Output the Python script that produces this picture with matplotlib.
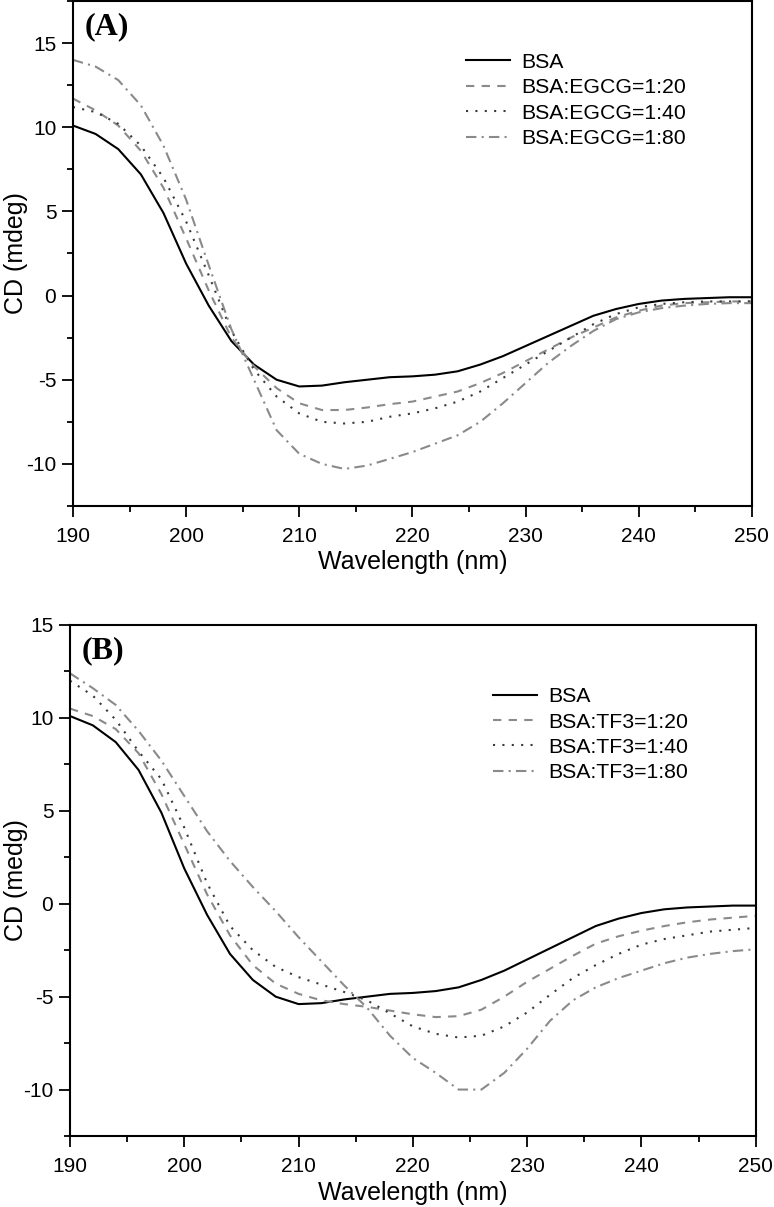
import numpy as np
import matplotlib
matplotlib.use("Agg")
import matplotlib.pyplot as plt
from matplotlib.ticker import MultipleLocator

plt.rcParams['font.family'] = ['Liberation Sans', 'DejaVu Sans']
plt.rcParams['axes.unicode_minus'] = False

# wavelength grid (nm), every 2 nm
wavelength = np.arange(190, 251, 2)

# BSA alone (same spectrum in both panels)
bsa = [10.1, 9.6, 8.7, 7.2, 4.9, 1.9, -0.6, -2.7, -4.1, -5.0, -5.4, -5.35, -5.15, -5.0, -4.85, -4.8,
       -4.7, -4.5, -4.1, -3.6, -3.0, -2.4, -1.8, -1.2, -0.8, -0.5, -0.3, -0.2, -0.15, -0.1, -0.1]

# panel A: BSA + EGCG
egcg_20 = [11.7, 11.0, 10.1, 8.6, 6.4, 3.4, 0.3, -2.5, -4.2, -5.5, -6.4, -6.8, -6.8, -6.65, -6.45, -6.3,
           -6.0, -5.7, -5.2, -4.6, -3.9, -3.2, -2.5, -1.9, -1.3, -0.9, -0.6, -0.45, -0.4, -0.35, -0.35]
egcg_40 = [11.2, 10.9, 10.2, 8.9, 7.0, 4.4, 1.2, -2.1, -4.4, -6.0, -7.0, -7.5, -7.6, -7.5, -7.2, -7.0,
           -6.7, -6.3, -5.7, -4.9, -4.1, -3.3, -2.5, -1.7, -1.1, -0.7, -0.5, -0.4, -0.35, -0.35, -0.35]
egcg_80 = [14.0, 13.6, 12.8, 11.3, 8.9, 5.7, 1.8, -2.0, -5.0, -8.0, -9.4, -10.0, -10.3, -10.1, -9.7, -9.3,
           -8.8, -8.3, -7.5, -6.4, -5.2, -4.0, -3.0, -2.1, -1.4, -1.0, -0.75, -0.6, -0.5, -0.45, -0.45]

# panel B: BSA + TF3
tf3_20 = [10.5, 10.1, 9.4, 8.1, 5.9, 3.2, 0.5, -1.7, -3.3, -4.3, -4.85, -5.2, -5.4, -5.55, -5.75, -5.95,
          -6.1, -6.05, -5.7, -5.0, -4.2, -3.5, -2.8, -2.15, -1.75, -1.45, -1.2, -1.0, -0.85, -0.75, -0.65]
tf3_40 = [12.0, 11.2, 9.9, 8.2, 6.7, 4.1, 1.1, -1.2, -2.5, -3.4, -3.95, -4.35, -4.75, -5.2, -5.9, -6.6,
          -7.0, -7.2, -7.1, -6.6, -5.85, -4.9, -4.0, -3.3, -2.7, -2.2, -1.9, -1.7, -1.5, -1.4, -1.3]
tf3_80 = [12.4, 11.6, 10.7, 9.3, 7.7, 5.8, 3.9, 2.3, 0.9, -0.4, -1.8, -3.1, -4.4, -5.6, -7.1, -8.3,
          -9.1, -10.0, -10.0, -9.1, -7.8, -6.3, -5.2, -4.5, -4.0, -3.6, -3.2, -2.9, -2.7, -2.55, -2.45]

styles = [
    dict(color='black', lw=1.5, linestyle='-'),
    dict(color='#8a8a8a', lw=1.5, dashes=(4, 3.5)),
    dict(color='#3a3a3a', lw=1.5, dashes=(1, 3.5)),
    dict(color='#8a8a8a', lw=1.5, dashes=(5, 2.5, 1, 2.5)),
]


def draw_panel(ax, series, labels, tag, ylabel, ylim, leg_anchor, ylab_x):
    for ys, lab, st in zip(series, labels, styles):
        ax.plot(wavelength, ys, label=lab, **st)
    ax.set_xlim(190, 250)
    ax.set_ylim(*ylim)
    ax.set_xticks(np.arange(190, 251, 10))
    ax.set_yticks([-10, -5, 0, 5, 10, 15])
    ax.xaxis.set_minor_locator(MultipleLocator(5))
    ax.yaxis.set_minor_locator(MultipleLocator(2.5))
    ax.tick_params(which='major', direction='out', length=8, width=1.3, labelsize=15, pad=4)
    ax.tick_params(axis='x', which='major', pad=7)
    ax.tick_params(which='minor', direction='out', length=4, width=1.3)
    for sp in ax.spines.values():
        sp.set_linewidth(1.5)
    ax.set_xlabel('Wavelength (nm)', fontsize=18)
    ax.xaxis.set_label_coords(0.5, -0.088)
    ax.set_ylabel(ylabel, fontsize=18)
    ax.yaxis.set_label_coords(ylab_x, 0.5)
    ax.text(0.017, 0.978, tag, transform=ax.transAxes, ha='left', va='top',
            fontsize=23, fontweight='bold', family='Liberation Serif')
    ax.legend(loc='upper left', bbox_to_anchor=leg_anchor, frameon=False, fontsize=15.3,
              handlelength=2.1, handletextpad=0.5, labelspacing=0.3, borderaxespad=0)


fig = plt.figure(figsize=(7.74, 12.07), dpi=100)
ax1 = fig.add_axes([0.0943, 0.5808, 0.877, 0.4184])
ax2 = fig.add_axes([0.0904, 0.0588, 0.886, 0.4234])

draw_panel(ax1, [bsa, egcg_20, egcg_40, egcg_80],
           ['BSA', 'BSA:EGCG=1:20', 'BSA:EGCG=1:40', 'BSA:EGCG=1:80'],
           '(A)', 'CD (mdeg)', (-12.5, 17.5), (0.566, 0.914), -0.066)
draw_panel(ax2, [bsa, tf3_20, tf3_40, tf3_80],
           ['BSA', 'BSA:TF3=1:20', 'BSA:TF3=1:40', 'BSA:TF3=1:80'],
           '(B)', 'CD (medg)', (-12.5, 15), (0.604, 0.895), -0.061)

fig.savefig('out.png', dpi=100)
